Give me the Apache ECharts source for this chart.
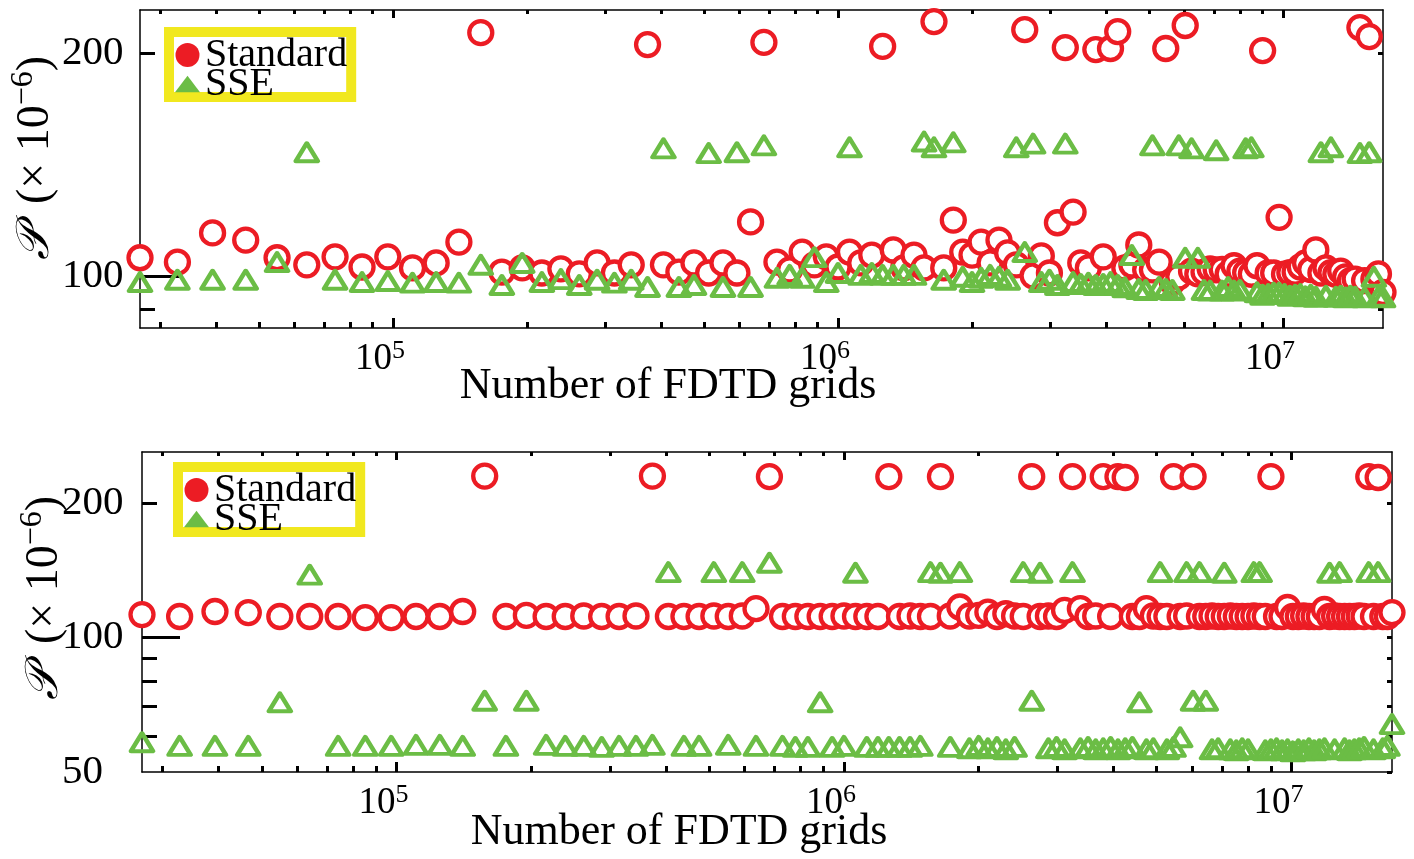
<!DOCTYPE html>
<html><head><meta charset="utf-8">
<script src="https://cdn.jsdelivr.net/npm/echarts@6.0.0/dist/echarts.min.js"></script>
<style>html,body{margin:0;padding:0;background:#fff}#c{width:1414px;height:859px}</style>
</head><body><div id="c"></div>
<script>
// Number of FDTD grids (x values)
const gridSizes = [
  27000, 32768, 39304, 46656, 54872, 64000, 74088, 85184, 97336, 110592,
  125000, 140608, 157464, 175616, 195112, 216000, 238328, 262144, 287496, 314432,
  343000, 373248, 405224, 438976, 474552, 512000, 551368, 592704, 636056, 681472,
  729000, 778688, 830584, 884736, 941192, 1000000, 1061208, 1124864, 1191016, 1259712,
  1331000, 1404928, 1481544, 1560896, 1643032, 1728000, 1815848, 1906624, 2000376, 2097152,
  2197000, 2299968, 2406104, 2515456, 2628072, 2744000, 2863288, 2985984, 3112136, 3241792,
  3375000, 3511808, 3652264, 3796416, 3944312, 4096000, 4251528, 4410944, 4574296, 4741632,
  4913000, 5088448, 5268024, 5451776, 5639752, 5832000, 6028568, 6229504, 6434856, 6644672,
  6859000, 7077888, 7301384, 7529536, 7762392, 8000000, 8242408, 8489664, 8741816, 8998912,
  9261000, 9528128, 9800344, 10077696, 10360232, 10648000, 10941048, 11239424, 11543176, 11852352,
  12167000, 12487168, 12812904, 13144256, 13481272, 13824000, 14172488, 14526784, 14886936, 15252992,
  15625000, 16003008, 16387064, 16777216
];
// Top panel (P x 1e-6)
const topStandard = [
  105.8, 104.4, 114.3, 111.8, 105.8, 103.5, 106.1, 102.8, 106.1, 102.5,
  104.1, 111.1, 213.4, 101.2, 102.5, 100.9, 102.2, 100.6, 104.1, 100.9,
  103.5, 205.6, 103.5, 101.2, 104.1, 100.9, 104.1, 100.9, 118.3, 207.0,
  104.4, 101.9, 107.7, 103.5, 106.1, 102.8, 107.7, 104.1, 106.7, 204.4,
  108.4, 102.5, 106.7, 102.5, 220.9, 102.5, 119.0, 107.7, 106.7, 111.1,
  104.1, 111.8, 107.4, 103.5, 215.4, 100.0, 106.4, 100.9, 118.0, 203.7,
  122.0, 104.1, 102.5, 202.4, 106.1, 203.1, 214.1, 102.5, 103.5, 110.1,
  101.9, 101.9, 104.4, 203.1, 98.1, 99.7, 218.2, 101.5, 100.6, 101.2,
  102.2, 101.9, 102.0, 100.6, 103.2, 101.5, 101.0, 100.5, 103.2, 201.8,
  100.9, 100.9, 120.0, 100.5, 101.0, 101.2, 102.8, 104.1, 102.0, 108.4,
  100.9, 102.5, 101.0, 100.5, 101.5, 99.7, 98.5, 99.0, 216.8, 98.5,
  210.8, 99.0, 100.6, 95.0
];
const topSSE = [
  98.1, 98.8, 98.8, 98.8, 104.4, 147.0, 98.8, 98.1, 98.4, 97.9,
  98.1, 97.9, 103.5, 97.2, 104.1, 98.1, 99.0, 97.2, 98.8, 97.9,
  98.8, 96.6, 148.8, 96.6, 97.2, 146.6, 96.6, 147.0, 96.6, 150.2,
  99.4, 100.3, 99.4, 106.0, 98.1, 100.9, 149.3, 100.3, 100.9, 100.3,
  100.3, 100.3, 100.3, 152.0, 149.3, 98.8, 151.6, 99.7, 98.1, 99.4,
  100.3, 99.7, 98.8, 149.3, 107.7, 151.0, 98.1, 98.8, 97.2, 151.0,
  98.1, 97.5, 97.9, 97.2, 97.5, 98.1, 97.2, 96.5, 106.7, 96.0,
  95.7, 150.2, 96.6, 96.0, 95.7, 150.2, 105.8, 148.8, 105.8, 95.7,
  95.5, 147.9, 95.5, 96.6, 95.5, 95.7, 148.8, 149.3, 95.0, 94.3,
  94.5, 94.9, 94.9, 94.5, 94.0, 94.3, 94.5, 93.8, 94.3, 93.7,
  147.0, 94.0, 149.3, 93.7, 94.0, 93.5, 94.0, 93.7, 146.6, 93.5,
  147.0, 99.7, 93.7, 93.5
];
// Bottom panel (P x 1e-6)
const bottomStandard = [
  112.5, 111.4, 114.3, 113.7, 111.4, 111.4, 111.4, 110.8, 110.8, 111.4,
  111.4, 114.3, 229.7, 111.4, 112.0, 111.4, 111.4, 111.7, 111.4, 111.4,
  111.7, 229.7, 111.4, 111.4, 111.4, 111.7, 111.4, 111.7, 116.0, 229.0,
  111.4, 111.4, 111.4, 111.4, 111.4, 111.7, 111.4, 111.4, 111.4, 229.0,
  111.4, 111.7, 111.4, 111.4, 229.0, 111.7, 117.0, 111.7, 112.0, 114.0,
  111.4, 113.0, 111.7, 111.4, 229.0, 111.4, 111.7, 111.4, 115.0, 229.0,
  116.0, 111.4, 111.7, 229.0, 111.4, 229.0, 228.0, 111.4, 111.4, 116.0,
  111.7, 111.4, 111.4, 229.0, 111.4, 111.7, 229.0, 111.4, 111.4, 111.7,
  111.4, 111.4, 111.7, 111.4, 111.4, 111.4, 111.7, 111.4, 111.4, 229.0,
  111.4, 111.4, 116.7, 111.4, 111.4, 111.7, 111.4, 111.4, 111.4, 115.5,
  111.4, 111.7, 111.4, 111.4, 111.4, 111.4, 111.7, 111.4, 229.0, 111.4,
  228.0, 111.4, 111.4, 113.7
];
const bottomSSE = [
  58.3, 57.2, 57.2, 57.2, 71.6, 138.2, 57.2, 57.2, 57.2, 57.5,
  57.5, 57.2, 72.2, 57.2, 72.2, 57.5, 57.2, 57.2, 56.9, 57.2,
  57.2, 57.5, 140.0, 57.2, 57.2, 140.0, 57.5, 140.0, 57.2, 147.0,
  57.2, 56.9, 56.9, 71.6, 56.9, 57.2, 139.6, 56.9, 56.9, 56.9,
  56.9, 56.9, 57.2, 140.0, 139.6, 56.9, 140.0, 56.5, 57.2, 56.5,
  56.9, 56.2, 56.9, 140.0, 72.2, 139.6, 56.5, 56.9, 56.2, 140.0,
  56.5, 56.9, 56.2, 56.5, 56.9, 56.2, 56.5, 56.9, 71.6, 56.2,
  56.5, 140.0, 56.2, 56.9, 59.8, 140.0, 72.2, 140.0, 72.2, 56.2,
  56.5, 139.6, 56.2, 55.9, 56.5, 56.2, 140.0, 140.0, 55.9, 56.2,
  56.5, 55.9, 56.2, 55.6, 56.2, 55.9, 56.5, 55.9, 56.2, 56.5,
  139.6, 56.2, 140.0, 56.5, 55.9, 56.2, 56.5, 56.9, 140.0, 56.2,
  140.0, 56.5, 57.2, 64.0
];
const xMajorTicks = [1e5, 1e6, 1e7];
const xMinorTicks = [3e4, 4e4, 5e4, 6e4, 7e4, 8e4, 9e4,
  2e5, 3e5, 4e5, 5e5, 6e5, 7e5, 8e5, 9e5,
  2e6, 3e6, 4e6, 5e6, 6e6, 7e6, 8e6, 9e6];
const topYLabels = [100, 200];
const topYMinorTicks = [90, 200];
const topYRightTicks = [90, 100, 200];
const bottomYLabels = [50, 100, 200];
const bottomYMinorTicks = [60, 70, 80, 90, 200];
const bottomYRightTicks = [50, 60, 70, 80, 90, 100, 200];
const yMajorTick = [100];
const xTitle = 'Number of FDTD grids';
const seriesNames = ['Standard', 'SSE'];

const RED = '#ec1c24', GREEN = '#6bbd45', YELLOW = '#f1e81f', BLACK = '#000';
const SERIF = 'Liberation Serif';
const X_MIN = 27000, X_MAX = 16777216;

function xAxesFor(grid, majLen, minLen, topMaj, topMin) {
  const common = {gridIndex: grid, type: 'log', logBase: 10, min: X_MIN, max: X_MAX,
    splitLine: {show: false}, axisPointer: {show: false}};
  const tickStyle = {color: BLACK, width: 3};
  return [
    Object.assign({}, common, {
      position: 'bottom',
      axisLine: {show: true, onZero: false, lineStyle: {color: BLACK, width: 1.5}},
      axisTick: {show: true, inside: true, length: majLen, customValues: xMajorTicks, lineStyle: tickStyle},
      axisLabel: {show: true, customValues: xMajorTicks, margin: 10, padding: [0, 26, 0, 0],
        formatter: v => '{b|10}{s|' + Math.round(Math.log10(v)) + '}',
        rich: {
          b: {fontFamily: SERIF, fontSize: 37, lineHeight: 42, color: BLACK},
          s: {fontFamily: SERIF, fontSize: 26, lineHeight: 26, verticalAlign: 'top', color: BLACK}
        }}
    }),
    Object.assign({}, common, {
      position: 'bottom', axisLine: {show: false, onZero: false},
      axisTick: {show: true, inside: true, length: minLen, customValues: xMinorTicks, lineStyle: tickStyle},
      axisLabel: {show: false}
    }),
    Object.assign({}, common, {
      position: 'top',
      axisLine: {show: true, onZero: false, lineStyle: {color: BLACK, width: 1.5}},
      axisTick: {show: true, inside: true, length: topMaj, customValues: xMajorTicks, lineStyle: tickStyle},
      axisLabel: {show: false}
    }),
    Object.assign({}, common, {
      position: 'top', axisLine: {show: false, onZero: false},
      axisTick: {show: true, inside: true, length: topMin, customValues: xMinorTicks, lineStyle: tickStyle},
      axisLabel: {show: false}
    })
  ];
}

function yAxesFor(grid, min, max, labels, minorTicks, rightTicks, margin, longLen) {
  const common = {gridIndex: grid, type: 'log', logBase: 10, min: min, max: max,
    splitLine: {show: false}, axisPointer: {show: false}};
  const tickStyle = {color: BLACK, width: 3};
  return [
    Object.assign({}, common, {
      position: 'left',
      axisLine: {show: true, onZero: false, lineStyle: {color: BLACK, width: 1.5}},
      axisTick: {show: true, inside: true, length: 15, customValues: minorTicks, lineStyle: tickStyle},
      axisLabel: {show: true, customValues: labels, margin: margin, align: 'left',
        fontFamily: SERIF, fontSize: 41, color: BLACK,
        formatter: v => String(Math.round(v))}
    }),
    Object.assign({}, common, {
      position: 'left', axisLine: {show: false, onZero: false},
      axisTick: {show: true, inside: true, length: longLen, customValues: yMajorTick, lineStyle: tickStyle},
      axisLabel: {show: false}
    }),
    Object.assign({}, common, {
      position: 'right',
      axisLine: {show: true, onZero: false, lineStyle: {color: BLACK, width: 1.5}},
      axisTick: {show: true, inside: true, length: 5, customValues: rightTicks, lineStyle: tickStyle},
      axisLabel: {show: false}
    })
  ];
}

function pts(ys) { return gridSizes.map((x, i) => [x, ys[i]]); }

function circleSeries(ys, xi, yi) {
  return {name: seriesNames[0], type: 'scatter', xAxisIndex: xi, yAxisIndex: yi, data: pts(ys),
    symbol: 'circle', symbolSize: 23, clip: false, silent: true,
    itemStyle: {color: '#fff', borderColor: RED, borderWidth: 4.3, opacity: 1},
    emphasis: {disabled: true}};
}
function triSeries(ys, xi, yi) {
  return {name: seriesNames[1], type: 'scatter', xAxisIndex: xi, yAxisIndex: yi, data: pts(ys),
    symbol: 'triangle', symbolSize: [22, 18], clip: false, silent: true,
    itemStyle: {color: 'rgba(255,255,255,0)', borderColor: GREEN, borderWidth: 4.3, borderJoin: 'round', opacity: 1},
    emphasis: {disabled: true}};
}

function legendFor(left, top) {
  return {
    left: left, top: top, orient: 'vertical', selectedMode: false,
    backgroundColor: '#fff', borderColor: YELLOW, borderWidth: 10, borderRadius: 0,
    padding: [3, 4, -7, 6], itemGap: -11, itemWidth: 25, itemHeight: 24,
    textStyle: {fontFamily: SERIF, fontSize: 40, color: BLACK},
    data: [
      {name: seriesNames[0], icon: 'circle', itemStyle: {color: RED, borderWidth: 0}},
      {name: seriesNames[1], icon: 'path://M11.5,0L23,15L0,15Z', itemStyle: {color: GREEN, borderWidth: 0}}
    ]
  };
}

function yTitle(x, y) {
  return {type: 'text', x: x, y: y, rotation: Math.PI / 2, silent: true,
    style: {text: '{p|\u{1D4AB}}{t|  (\u00D7 10}{s|\u22126}{t|)}', align: 'center', verticalAlign: 'middle', fill: BLACK,
      rich: {
        p: {fontFamily: 'DejaVu Serif', fontStyle: 'italic', fontSize: 46, lineHeight: 56, fill: BLACK},
        t: {fontFamily: SERIF, fontSize: 46, lineHeight: 56, fill: BLACK},
        s: {fontFamily: SERIF, fontSize: 32, lineHeight: 32, verticalAlign: 'top', fill: BLACK}
      }}};
}
function xTitleText(x, y) {
  return {type: 'text', x: x, y: y, silent: true,
    style: {text: xTitle, align: 'center', verticalAlign: 'middle', fill: BLACK,
      font: '44px "Liberation Serif"'}};
}

const chart = echarts.init(document.getElementById('c'), null, {renderer: 'canvas'});
chart.setOption({
  animation: false,
  backgroundColor: '#fff',
  textStyle: {fontFamily: SERIF},
  grid: [
    {left: 140, top: 10, width: 1243, height: 318},
    {left: 142, top: 452, width: 1250, height: 320}
  ],
  xAxis: xAxesFor(0, 10, 6, 8, 4).concat(xAxesFor(1, 10, 6, 8, 4)),
  yAxis: yAxesFor(0, 85, 229, topYLabels, topYMinorTicks, topYRightTicks, 78, 40)
    .concat(yAxesFor(1, 50, 260, bottomYLabels, bottomYMinorTicks, bottomYRightTicks, 80, 38)),
  legend: [legendFor(169, 32), legendFor(178, 467)],
  graphic: [yTitle(36, 158), yTitle(45, 598), xTitleText(668, 386), xTitleText(679, 832)],
  series: [
    circleSeries(topStandard, 0, 0),
    triSeries(topSSE, 0, 0),
    circleSeries(bottomStandard, 4, 3),
    triSeries(bottomSSE, 4, 3)
  ]
});
</script>
</body></html>
